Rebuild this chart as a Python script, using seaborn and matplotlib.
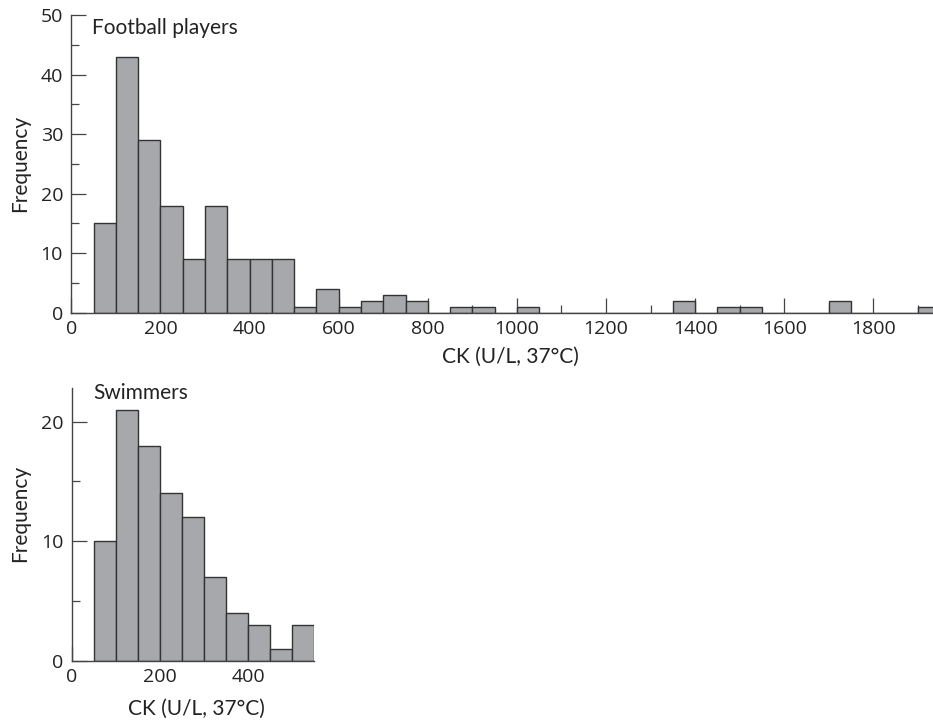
import numpy as np
import pandas as pd
import matplotlib
matplotlib.use("Agg")
import matplotlib.pyplot as plt
from matplotlib.ticker import MultipleLocator
import seaborn as sns

# ---- data (bin left edges, width 50 U/L) ----
fb_bin_left = [50, 100, 150, 200, 250, 300, 350, 400, 450, 500, 550, 600, 650,
               700, 750, 850, 900, 1000, 1350, 1450, 1500, 1700, 1900]
fb_counts = [15, 43, 29, 18, 9, 18, 9, 9, 9, 1, 4, 1, 2,
             3, 2, 1, 1, 1, 2, 1, 1, 2, 1]
sw_bin_left = [50, 100, 150, 200, 250, 300, 350, 400, 450, 500]
sw_counts = [10, 21, 18, 14, 12, 7, 4, 3, 1, 3]
bin_width = 50
fb_title = "Football players"
sw_title = "Swimmers"
x_label = "CK (U/L, 37°C)"
y_label = "Frequency"

sns.set_style("ticks")
plt.rcParams['font.family'] = ['Open Sans', 'DejaVu Sans']
plt.rcParams['font.size'] = 14
WORD_FONT = ['Lato', 'DejaVu Sans']
TXT = "#222222"
BAR = "#a7a8ab"
EDGE = "#333333"
SP = "#444444"

fig = plt.figure(figsize=(9.33, 7.2), dpi=100)
ax1 = fig.add_axes([0.0765, 0.5657, 0.9235, 0.4133])
ax2 = fig.add_axes([0.0768, 0.0824, 0.2602, 0.3783])

fb = pd.DataFrame({"ck": np.array(fb_bin_left, dtype=float) + bin_width / 2,
                   "n": np.array(fb_counts, dtype=float)})
sw = pd.DataFrame({"ck": np.array(sw_bin_left, dtype=float) + bin_width / 2,
                   "n": np.array(sw_counts, dtype=float)})

sns.histplot(data=fb, x="ck", weights="n", binwidth=bin_width,
             binrange=(min(fb_bin_left), max(fb_bin_left) + bin_width), ax=ax1,
             color=BAR, alpha=1, edgecolor=EDGE, linewidth=1.0)
sns.histplot(data=sw, x="ck", weights="n", binwidth=bin_width,
             binrange=(min(sw_bin_left), max(sw_bin_left) + bin_width), ax=ax2,
             color=BAR, alpha=1, edgecolor=EDGE, linewidth=1.0)

ax1.set_xlim(0, 1934)
ax1.set_ylim(0, 50)
ax2.set_xlim(0, 550)
ax2.set_ylim(0, 22.8)

ax1.xaxis.set_major_locator(MultipleLocator(200))
ax1.xaxis.set_minor_locator(MultipleLocator(100))
ax1.yaxis.set_major_locator(MultipleLocator(10))
ax1.yaxis.set_minor_locator(MultipleLocator(5))
ax2.xaxis.set_major_locator(MultipleLocator(200))
ax2.xaxis.set_minor_locator(MultipleLocator(100))
ax2.yaxis.set_major_locator(MultipleLocator(10))
ax2.yaxis.set_minor_locator(MultipleLocator(5))

for ax in (ax1, ax2):
    for s in ("top", "right"):
        ax.spines[s].set_visible(False)
    for s in ("left", "bottom"):
        ax.spines[s].set_color(SP)
        ax.spines[s].set_linewidth(1.0)
    ax.tick_params(axis="both", which="major", direction="in", length=11,
                   width=0.9, color=SP, labelcolor=TXT, labelsize=14)
    ax.tick_params(axis="both", which="minor", direction="in", length=5.5,
                   width=0.9, color=SP)
    ax.tick_params(axis="x", which="major", pad=5.0)
    ax.tick_params(axis="y", which="major", pad=6)
    ax.set_xlabel(x_label, color=TXT, fontsize=15, family=WORD_FONT)
    ax.set_ylabel(y_label, color=TXT, fontsize=15, family=WORD_FONT)
    ax.set_facecolor("white")

ax1.xaxis.set_label_coords(0.51, -0.115)
ax1.yaxis.set_label_coords(-0.048, 0.5)
ax2.xaxis.set_label_coords(0.515, -0.14)
ax2.yaxis.set_label_coords(-0.172, 0.542)

ax1.text(0.0243, 0.936, fb_title, transform=ax1.transAxes, fontsize=15,
         color=TXT, va="baseline", ha="left", family=WORD_FONT)
ax2.text(0.089, 0.96, sw_title, transform=ax2.transAxes, fontsize=15,
         color=TXT, va="baseline", ha="left", family=WORD_FONT)

fig.savefig("out.png", dpi=100, facecolor="white")
